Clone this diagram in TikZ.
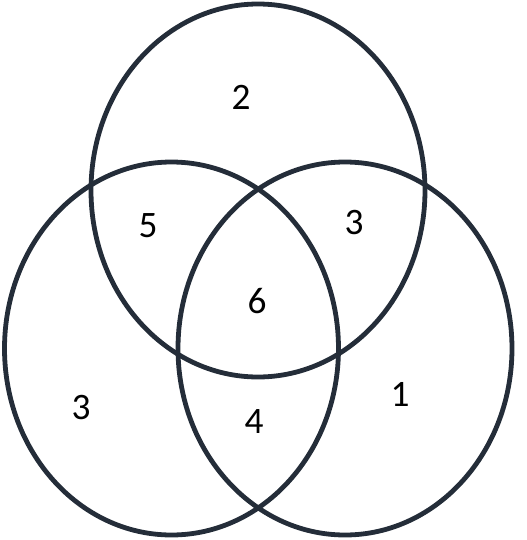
\documentclass[tikz,border=0pt]{standalone}
\usepackage{fontspec}
\setmainfont{Carlito}
\usetikzlibrary{positioning}
\definecolor{ringcol}{RGB}{36,45,57}

\begin{document}
\begin{tikzpicture}[x=0.75pt, y=-0.75pt]
  \tikzset{
    ring/.style={draw=ringcol, line width=3.6pt},
    count/.style={font=\fontsize{28}{33}\selectfont, inner sep=0pt}
  }
  \useasboundingbox (0, 0) rectangle (527, 540);

  \coordinate (top) at (258, 190.5);
  \coordinate (left) at (171.5, 348.5);
  \coordinate (right) at (345, 348.5);

  \draw[ring] (top) ellipse [x radius=167, y radius=186.5];
  \draw[ring] (left) ellipse [x radius=167, y radius=186.5];
  \draw[ring] (right) ellipse [x radius=167, y radius=186.5];

  \node[count] (onlytop) at (241, 97.5) {2};
  \node[count] (topleft) at (148, 226) {5};
  \node[count] (topright) at (354, 222.5) {3};
  \node[count] (all) at (257, 301.5) {6};
  \node[count] (onlyleft) at (81, 408) {3};
  \node[count] (leftright) at (254, 422) {4};
  \node[count] (onlyright) at (400, 394) {1};
\end{tikzpicture}
\end{document}
